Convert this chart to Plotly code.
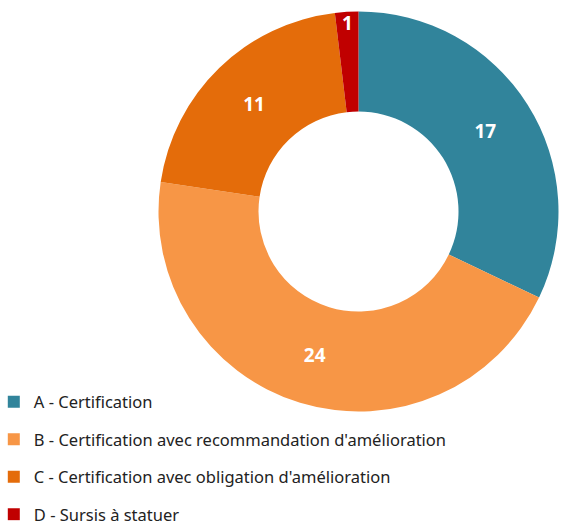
import plotly.graph_objects as go

# Data
labels = [
    "A - Certification",
    "B - Certification avec recommandation d'amélioration",
    "C - Certification avec obligation d'amélioration",
    "D - Sursis à statuer",
]
values = [17, 24, 11, 1]
colors = ["#31849B", "#F79646", "#E46C0A", "#C00000"]

fig = go.Figure()

fig.add_trace(go.Pie(
    labels=labels,
    values=values,
    hole=0.5,
    sort=False,
    direction="clockwise",
    rotation=0,
    marker=dict(colors=colors, line=dict(width=0)),
    textinfo="value",
    textposition="inside",
    insidetextorientation="horizontal",
    textfont=dict(family="Noto Sans", size=19, color="white", weight="bold"),
    domain=dict(x=[158 / 564, 559 / 564], y=[1 - 411.5 / 530, 1 - 11.5 / 530]),
    showlegend=False,
))

# legend entries, one group each so the spacing can be set
for lab, col in zip(labels, colors):
    fig.add_trace(go.Scatter(
        x=[None], y=[None], mode="markers", name=lab, legendgroup=lab,
        marker=dict(symbol="square", size=11, color=col),
    ))

fig.update_layout(
    width=564, height=530,
    margin=dict(l=0, r=0, t=0, b=0, autoexpand=False),
    paper_bgcolor="white", plot_bgcolor="white",
    xaxis=dict(visible=False), yaxis=dict(visible=False),
    font=dict(family="Noto Sans", color="#222222"),
    uniformtext=dict(minsize=19, mode="show"),
    legend=dict(
        x=-0.011, y=-0.003, xanchor="left", yanchor="bottom",
        bgcolor="rgba(0,0,0,0)",
        font=dict(size=16.5, color="#222222"),
        tracegroupgap=13, itemsizing="constant",
    ),
)

# drop the browser's default page margin so the figure sits at 0,0
fig.write_html(
    "out.html",
    config={"displayModeBar": False},
    post_script="document.body.style.margin='0';",
)
